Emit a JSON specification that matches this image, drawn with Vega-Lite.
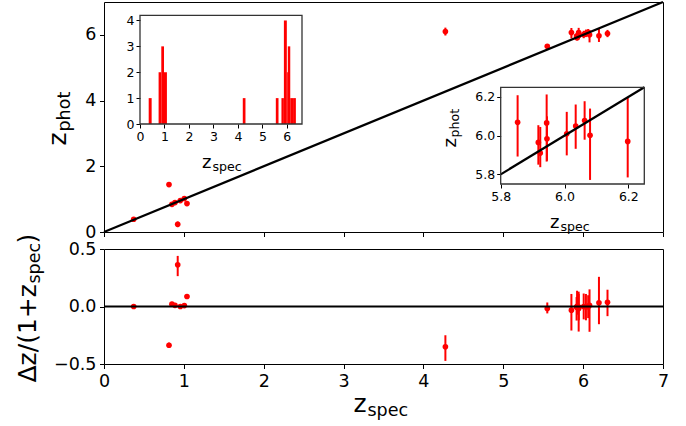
{
  "$schema": "https://vega.github.io/schema/vega-lite/v6.json",
  "padding": {"left": 15, "top": -3, "right": 5, "bottom": 5},
  "background": "white",
  "bounds": "flush",
  "spacing": 17,
  "config": {
    "font": "DejaVu Sans",
    "view": {"stroke": "black", "strokeWidth": 1},
    "axis": {
      "grid": false, "domain": false,
      "domainColor": "black", "tickColor": "black", "labelColor": "black", "titleColor": "black",
      "tickSize": 4.5, "tickWidth": 1, "labelPadding": 3.5, "labelFontSize": 17.5,
      "titleFontWeight": "normal", "labelFlush": false, "labelOverlap": false, "labelBound": false,
      "labelFont": "DejaVu Sans", "titleFont": "DejaVu Sans"
    }
  },
  "datasets": {
    "pts": [
      {"zs": 0.372, "zp": 0.387, "zlo": 0.367, "zhi": 0.407, "dz": 0.0, "dzlo": -0.02, "dzhi": 0.02},
      {"zs": 0.814, "zp": 1.443, "zlo": 1.42, "zhi": 1.466, "dz": -0.337, "dzlo": -0.36, "dzhi": -0.314},
      {"zs": 0.851, "zp": 0.843, "zlo": 0.82, "zhi": 0.866, "dz": 0.02, "dzlo": 0.0, "dzhi": 0.04},
      {"zs": 0.889, "zp": 0.895, "zlo": 0.875, "zhi": 0.915, "dz": 0.01, "dzlo": -0.01, "dzhi": 0.03},
      {"zs": 0.923, "zp": 0.234, "zlo": 0.15, "zhi": 0.32, "dz": 0.362, "dzlo": 0.264, "dzhi": 0.44},
      {"zs": 0.956, "zp": 0.955, "zlo": 0.935, "zhi": 0.975, "dz": 0.0, "dzlo": -0.02, "dzhi": 0.02},
      {"zs": 1.006, "zp": 1.017, "zlo": 0.997, "zhi": 1.037, "dz": 0.008, "dzlo": -0.012, "dzhi": 0.028},
      {"zs": 1.039, "zp": 0.864, "zlo": 0.844, "zhi": 0.884, "dz": 0.087, "dzlo": 0.067, "dzhi": 0.107},
      {"zs": 4.275, "zp": 6.1, "zlo": 5.98, "zhi": 6.22, "dz": -0.351, "dzlo": -0.473, "dzhi": -0.25},
      {"zs": 5.551, "zp": 5.65, "zlo": 5.6, "zhi": 5.7, "dz": -0.017, "dzlo": -0.06, "dzhi": 0.035},
      {"zs": 5.853, "zp": 6.069, "zlo": 5.892, "zhi": 6.209, "dz": -0.032, "dzlo": -0.209, "dzhi": 0.109},
      {"zs": 5.918, "zp": 5.965, "zlo": 5.85, "zhi": 6.054, "dz": -0.007, "dzlo": -0.122, "dzhi": 0.082},
      {"zs": 5.924, "zp": 5.91, "zlo": 5.837, "zhi": 6.045, "dz": 0.002, "dzlo": -0.071, "dzhi": 0.137},
      {"zs": 5.944, "zp": 6.066, "zlo": 5.866, "zhi": 6.213, "dz": -0.018, "dzlo": -0.218, "dzhi": 0.129},
      {"zs": 5.945, "zp": 5.984, "zlo": 5.87, "zhi": 6.1, "dz": -0.006, "dzlo": -0.12, "dzhi": 0.11},
      {"zs": 6.007, "zp": 6.01, "zlo": 5.898, "zhi": 6.123, "dz": 0.0, "dzlo": -0.112, "dzhi": 0.113},
      {"zs": 6.035, "zp": 6.05, "zlo": 5.932, "zhi": 6.161, "dz": -0.002, "dzlo": -0.12, "dzhi": 0.109},
      {"zs": 6.063, "zp": 6.078, "zlo": 5.979, "zhi": 6.178, "dz": -0.002, "dzlo": -0.101, "dzhi": 0.098},
      {"zs": 6.08, "zp": 6.002, "zlo": 5.771, "zhi": 6.14, "dz": 0.011, "dzlo": -0.22, "dzhi": 0.149},
      {"zs": 6.198, "zp": 5.97, "zlo": 5.784, "zhi": 6.196, "dz": 0.032, "dzlo": -0.154, "dzhi": 0.258},
      {"zs": 6.305, "zp": 6.04, "zlo": 5.93, "zhi": 6.15, "dz": 0.036, "dzlo": -0.084, "dzhi": 0.146}
    ],
    "hist": [
      {"x0": 0.355, "x1": 0.476, "n": 1},
      {"x0": 0.76, "x1": 0.87, "n": 2},
      {"x0": 0.87, "x1": 0.98, "n": 3},
      {"x0": 0.98, "x1": 1.1, "n": 2},
      {"x0": 4.2, "x1": 4.31, "n": 1},
      {"x0": 5.55, "x1": 5.66, "n": 1},
      {"x0": 5.78, "x1": 5.88, "n": 1},
      {"x0": 5.88, "x1": 6.0, "n": 4},
      {"x0": 6.0, "x1": 6.04, "n": 2},
      {"x0": 6.04, "x1": 6.14, "n": 3},
      {"x0": 6.14, "x1": 6.255, "n": 1},
      {"x0": 6.255, "x1": 6.37, "n": 1}
    ],
    "diag": [{"v": 0}, {"v": 7}],
    "diag2": [{"v": 5.8}, {"v": 6.25}]
  },
  "vconcat": [
    {
      "width": 559,
      "height": 230,
      "resolve": {"scale": {"x": "independent", "y": "independent"}, "axis": {"x": "independent", "y": "independent"}},
      "layer": [
        {
          "resolve": {"axis": {"x": "independent", "y": "independent"}},
          "layer": [
            {
              "data": {"name": "pts"},
              "mark": {"type": "rule", "color": "red", "strokeWidth": 2},
              "encoding": {
                "x": {"field": "zs", "type": "quantitative", "scale": {"domain": [0, 7], "zero": false, "nice": false},
                  "axis": {"orient": "bottom", "values": [0, 1, 2, 3, 4, 5, 6, 7], "labels": false, "title": null}},
                "y": {"field": "zlo", "type": "quantitative", "scale": {"domain": [0, 7], "zero": false, "nice": false},
                  "axis": {"orient": "left", "values": [0, 2, 4, 6], "title": "z", "titleFontSize": 25, "titleAngle": 270, "titleAlign": "left", "titleBaseline": "alphabetic", "titleX": -39, "titleY": 143}},
                "y2": {"field": "zhi"}
              }
            },
            {
              "data": {"name": "pts"},
              "mark": {"type": "circle", "color": "red", "opacity": 1, "size": 32},
              "encoding": {
                "x": {"field": "zs", "type": "quantitative", "axis": null},
                "y": {"field": "zp", "type": "quantitative",
                  "axis": {"orient": "left", "labels": false, "ticks": false, "domain": false, "title": "phot", "titleFontSize": 17.5, "titleAngle": 270, "titleAlign": "left", "titleBaseline": "alphabetic", "titleX": -35, "titleY": 129}}
              }
            },
            {
              "data": {"name": "diag"},
              "mark": {"type": "line", "color": "black", "strokeWidth": 2.2},
              "encoding": {
                "x": {"field": "v", "type": "quantitative", "axis": null},
                "y": {"field": "v", "type": "quantitative", "axis": null}
              }
            }
          ]
        },
        {
          "resolve": {"axis": {"x": "independent", "y": "independent"}},
          "layer": [
            {
              "data": {"name": "hist"},
              "mark": {"type": "rect", "color": "red"},
              "encoding": {
                "x": {"field": "x0", "type": "quantitative", "scale": {"domain": [0, 6.62], "range": [36, 198], "zero": false, "nice": false},
                  "axis": {"orient": "bottom", "offset": -108, "values": [0, 1, 2, 3, 4, 5, 6], "labelFontSize": 12.5, "tickSize": 4, "labelPadding": 2, "title": "z", "titleFontSize": 18, "titleAlign": "right", "titleBaseline": "alphabetic", "titleX": 107, "titleY": 43}},
                "x2": {"field": "x1"},
                "y": {"field": "n", "type": "quantitative", "scale": {"domain": [0, 4.2], "range": [122, 13.3], "zero": false, "nice": false},
                  "axis": {"orient": "left", "offset": -36, "values": [0, 1, 2, 3, 4], "labelFontSize": 12.5, "tickSize": 4, "labelPadding": 2, "title": null}},
                "y2": {"datum": 0}
              }
            },
            {
              "data": {"values": [{}]},
              "mark": {"type": "rect", "fillOpacity": 0, "stroke": "#333333", "strokeWidth": 1.3},
              "encoding": {
                "x": {"datum": 0, "type": "quantitative",
                  "axis": {"orient": "bottom", "offset": -108, "labels": false, "ticks": false, "domain": false, "title": "spec", "titleFontSize": 12.6, "titleAlign": "left", "titleBaseline": "alphabetic", "titleX": 108, "titleY": 46}},
                "x2": {"datum": 6.62},
                "y": {"datum": 0, "type": "quantitative", "axis": null},
                "y2": {"datum": 4.2}
              }
            }
          ]
        },
        {
          "resolve": {"axis": {"x": "independent", "y": "independent"}},
          "layer": [
            {
              "data": {"name": "pts"},
              "transform": [{"filter": "datum.zs >= 5.8 && datum.zs <= 6.25"}],
              "mark": {"type": "rule", "color": "red", "strokeWidth": 2},
              "encoding": {
                "x": {"field": "zs", "type": "quantitative", "scale": {"domain": [5.8, 6.25], "range": [396.7, 540.3], "zero": false, "nice": false},
                  "axis": {"orient": "bottom", "offset": -48, "values": [5.8, 6.0, 6.2], "format": ".1f", "labelFontSize": 12.5, "tickSize": 4, "labelPadding": 2, "title": "z", "titleFontSize": 18, "titleAlign": "right", "titleBaseline": "alphabetic", "titleX": 455, "titleY": 43}},
                "y": {"field": "zlo", "type": "quantitative", "scale": {"domain": [5.75, 6.25], "range": [182, 85.3], "zero": false, "nice": false},
                  "axis": {"orient": "left", "offset": -396.7, "values": [5.8, 6.0, 6.2], "format": ".1f", "labelFontSize": 12.5, "tickSize": 4, "labelPadding": 2, "title": "z", "titleFontSize": 18, "titleAngle": 270, "titleAlign": "left", "titleBaseline": "alphabetic", "titleX": -45, "titleY": 145}},
                "y2": {"field": "zhi"}
              }
            },
            {
              "data": {"name": "pts"},
              "transform": [{"filter": "datum.zs >= 5.8 && datum.zs <= 6.25"}],
              "mark": {"type": "circle", "color": "red", "opacity": 1, "size": 32},
              "encoding": {
                "x": {"field": "zs", "type": "quantitative",
                  "axis": {"orient": "bottom", "offset": -48, "labels": false, "ticks": false, "domain": false, "title": "spec", "titleFontSize": 12.6, "titleAlign": "left", "titleBaseline": "alphabetic", "titleX": 456, "titleY": 46}},
                "y": {"field": "zp", "type": "quantitative",
                  "axis": {"orient": "left", "offset": -396.7, "labels": false, "ticks": false, "domain": false, "title": "phot", "titleFontSize": 12.6, "titleAngle": 270, "titleAlign": "left", "titleBaseline": "alphabetic", "titleX": -42, "titleY": 135}}
              }
            },
            {
              "data": {"name": "diag2"},
              "mark": {"type": "line", "color": "black", "strokeWidth": 2.2},
              "encoding": {
                "x": {"field": "v", "type": "quantitative", "axis": null},
                "y": {"field": "v", "type": "quantitative", "axis": null}
              }
            },
            {
              "data": {"values": [{}]},
              "mark": {"type": "rect", "fillOpacity": 0, "stroke": "#333333", "strokeWidth": 1.3},
              "encoding": {
                "x": {"datum": 5.8, "type": "quantitative", "axis": null},
                "x2": {"datum": 6.25},
                "y": {"datum": 5.75, "type": "quantitative", "axis": null},
                "y2": {"datum": 6.25}
              }
            }
          ]
        }
      ]
    },
    {
      "width": 559,
      "height": 115,
      "resolve": {"axis": {"x": "independent", "y": "independent"}},
      "layer": [
        {
          "data": {"name": "pts"},
          "mark": {"type": "rule", "color": "red", "strokeWidth": 2},
          "encoding": {
            "x": {"field": "zs", "type": "quantitative", "scale": {"domain": [0, 7], "zero": false, "nice": false},
              "axis": {"orient": "bottom", "values": [0, 1, 2, 3, 4, 5, 6, 7], "title": "z", "titleFontSize": 25, "titleAlign": "right", "titleBaseline": "alphabetic", "titleX": 262, "titleY": 47}},
            "y": {"field": "dzlo", "type": "quantitative", "scale": {"domain": [-0.5, 0.5], "zero": false, "nice": false},
              "axis": {"orient": "left", "values": [-0.5, 0, 0.5], "format": ".1f", "title": "Δz/(1+z", "titleFontSize": 25, "titleAngle": 270, "titleAlign": "left", "titleBaseline": "alphabetic", "titleX": -68.5, "titleY": 133}},
            "y2": {"field": "dzhi"}
          }
        },
        {
          "data": {"name": "pts"},
          "mark": {"type": "circle", "color": "red", "opacity": 1, "size": 32},
          "encoding": {
            "x": {"field": "zs", "type": "quantitative",
              "axis": {"orient": "bottom", "labels": false, "ticks": false, "domain": false, "title": "spec", "titleFontSize": 17.5, "titleAlign": "left", "titleBaseline": "alphabetic", "titleX": 263, "titleY": 51}},
            "y": {"field": "dz", "type": "quantitative",
              "axis": {"orient": "left", "labels": false, "ticks": false, "domain": false, "title": "spec", "titleFontSize": 17.5, "titleAngle": 270, "titleAlign": "left", "titleBaseline": "alphabetic", "titleX": -65, "titleY": 34}}
          }
        },
        {
          "data": {"values": [{}]},
          "mark": {"type": "rule", "color": "black", "strokeWidth": 2.2},
          "encoding": {
            "y": {"datum": 0, "type": "quantitative",
              "axis": {"orient": "left", "labels": false, "ticks": false, "domain": false, "title": ")", "titleFontSize": 25, "titleAngle": 270, "titleAlign": "left", "titleBaseline": "alphabetic", "titleX": -68.5, "titleY": -6}}
          }
        }
      ]
    }
  ]
}
